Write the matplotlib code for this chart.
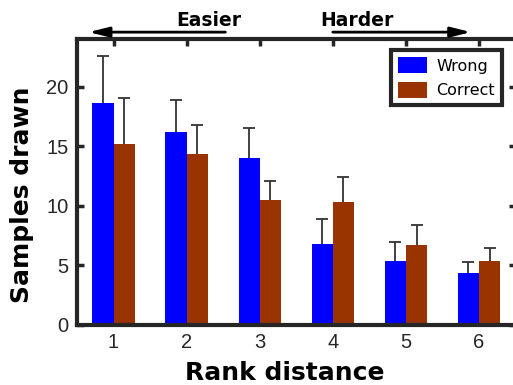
import matplotlib
matplotlib.use('Agg')
import matplotlib.pyplot as plt
import numpy as np

rank_distance = [1, 2, 3, 4, 5, 6]
wrong_mean = [18.66, 16.2, 14.03, 6.8, 5.38, 4.37]
wrong_err = [3.9, 2.7, 2.55, 2.08, 1.6, 0.92]
correct_mean = [15.2, 14.37, 10.5, 10.34, 6.72, 5.38]
correct_err = [3.9, 2.46, 1.6, 2.12, 1.7, 1.1]

plt.rcParams['font.family'] = 'DejaVu Sans'

fig = plt.figure(figsize=(5.13, 3.85), dpi=100)
ax = fig.add_axes([0.150, 0.156, 0.855, 0.742])

x = np.array(rank_distance, dtype=float)
width = 0.29
blue = '#0000ff'
brown = '#993300'
err_color = '#333333'

for offset, mean, err, color, label in [(-width / 2, wrong_mean, wrong_err, blue, 'Wrong'),
                                        (width / 2, correct_mean, correct_err, brown, 'Correct')]:
    xs = x + offset
    mean = np.array(mean)
    err = np.array(err)
    ax.bar(xs, mean, width, color=color, label=label, zorder=2)
    # upper-only error bars with a cap at the top end
    ax.vlines(xs, mean, mean + err, color=err_color, lw=1.3, zorder=3)
    ax.plot(xs, mean + err, linestyle='none', marker='_', markersize=9,
            markeredgewidth=1.3, color=err_color, zorder=3)

ax.set_xlim(0.5, 6.5)
ax.set_ylim(0, 24)
ax.set_xticks(rank_distance)
ax.set_yticks([0, 5, 10, 15, 20])
ax.tick_params(axis='both', direction='in', length=5, width=2.5,
               top=True, right=True, labelsize=14.5, labelcolor='#262626',
               color='#262626', pad=6)
for lab in ax.get_xticklabels() + ax.get_yticklabels():
    lab.set_fontfamily('Liberation Sans')
for spine in ax.spines.values():
    spine.set_linewidth(3)
    spine.set_color('#262626')

ax.set_xlabel('Rank distance', fontsize=18, fontweight='bold')
ax.xaxis.set_label_coords(0.474, -0.125)
ax.set_ylabel('Samples drawn', fontsize=18, fontweight='bold')
ax.yaxis.set_label_coords(-0.098, 0.455)

leg = ax.legend(loc='upper right', bbox_to_anchor=(0.969, 0.963), fontsize=11.5,
                handlelength=1.8, handleheight=1.2, fancybox=False,
                framealpha=1, edgecolor='#262626', borderpad=0.45,
                labelspacing=0.5, handletextpad=0.6, borderaxespad=0)
leg.get_frame().set_linewidth(3)

# difficulty arrows above the axes
arrow_kw = dict(arrowstyle='-|>,head_length=1.2,head_width=0.3', color='black', lw=2,
                shrinkA=0, shrinkB=0)
ax.annotate('', xy=(0.66, 24.6), xytext=(2.53, 24.6), arrowprops=arrow_kw,
            annotation_clip=False)
ax.annotate('', xy=(5.89, 24.6), xytext=(4.0, 24.6), arrowprops=arrow_kw,
            annotation_clip=False)
ax.text(2.30, 25.6, 'Easier', ha='center', va='center', fontsize=13.5,
        fontweight='bold', clip_on=False)
ax.text(4.33, 25.6, 'Harder', ha='center', va='center', fontsize=13.5,
        fontweight='bold', clip_on=False)

fig.savefig('out.png', dpi=100)
